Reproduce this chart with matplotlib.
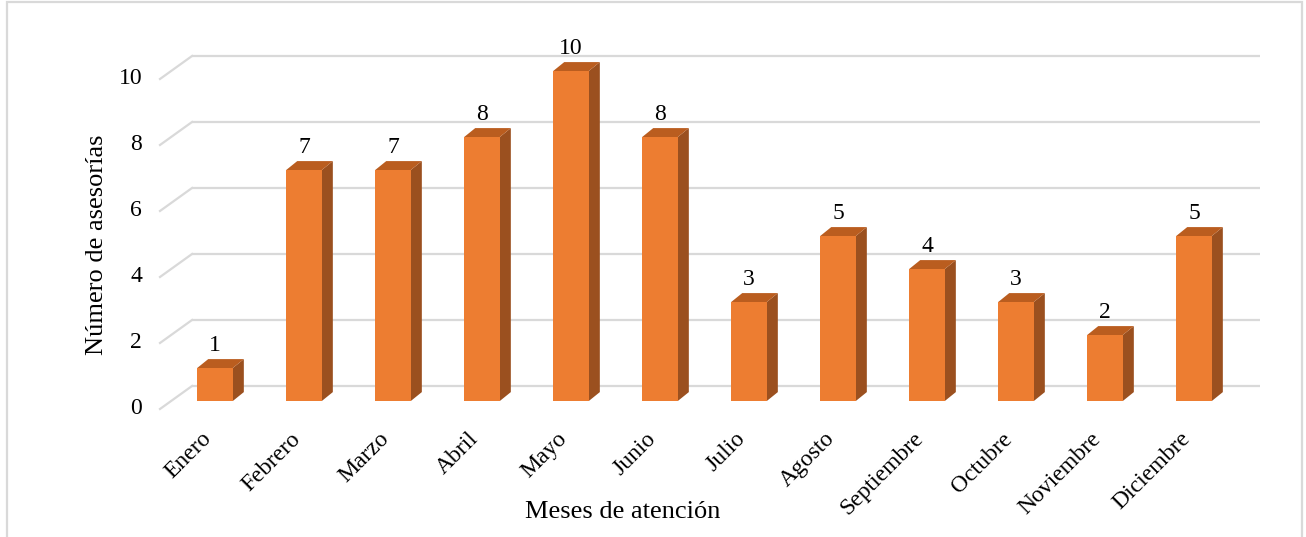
import matplotlib.pyplot as plt
from matplotlib.patches import Polygon, Rectangle

# data
months = ['Enero', 'Febrero', 'Marzo', 'Abril', 'Mayo', 'Junio', 'Julio',
          'Agosto', 'Septiembre', 'Octubre', 'Noviembre', 'Diciembre']
counts = [1, 7, 7, 8, 10, 8, 3, 5, 4, 3, 2, 5]
y_ticks = [0, 2, 4, 6, 8, 10]

# style
plt.rcParams['font.family'] = ['Liberation Serif', 'DejaVu Serif']
c_front = '#ED7D31'
c_top = '#BA5D1F'
c_side = '#9B501F'
c_grid = '#D9D9D9'

# pseudo-3d geometry (category / value units)
bar_w = 0.4
bar_dx, bar_dy = 0.124, 0.27      # bar depth
wall_x0, wall_x1 = -0.258, 11.74  # back wall extent
wall_dy = 0.455                   # back wall lift
floor_x0, floor_dy = -0.618, -0.242  # front edge of the floor

fig = plt.figure(figsize=(13.06, 5.37), dpi=100)
ax = fig.add_axes([0, 0, 1, 1])
ax.set_xlim(-215 / 89, 1091 / 89)
ax.set_ylim(-136 / 33, 401 / 33)
ax.axis('off')

# back wall grid + side diagonals
for v in y_ticks:
    ax.plot([wall_x0, wall_x1], [v + wall_dy, v + wall_dy], color=c_grid, lw=1.6, zorder=1,
            solid_capstyle='butt')
    ax.plot([floor_x0, wall_x0], [v + floor_dy, v + wall_dy], color=c_grid, lw=1.6, zorder=1)
    ax.text(floor_x0 - 0.2, v + floor_dy, str(v), ha='right', va='center', fontsize=17)

# bars
for i, v in enumerate(counts):
    x0, x1 = i - bar_w / 2, i + bar_w / 2
    ax.add_patch(Polygon([(x1, 0), (x1, v), (x1 + bar_dx, v + bar_dy), (x1 + bar_dx, bar_dy)],
                         closed=True, facecolor=c_side, edgecolor='none', zorder=2))
    ax.add_patch(Polygon([(x0, v), (x1, v), (x1 + bar_dx, v + bar_dy), (x0 + bar_dx, v + bar_dy)],
                         closed=True, facecolor=c_top, edgecolor='none', zorder=2))
    ax.add_patch(Rectangle((x0, 0), bar_w, v, facecolor=c_front, edgecolor='none', zorder=3))
    ax.text(i, v + bar_dy + 0.24, str(v), ha='center', va='baseline', fontsize=17, zorder=4)
    ax.text(i - 0.16, -0.83, months[i], rotation=45, rotation_mode='anchor',
            ha='right', va='top', fontsize=17)

ax.text(-1.326, 4.73, 'Número de asesorías', rotation=90, ha='center', va='center', fontsize=19)
ax.text(4.584, -3.36, 'Meses de atención', ha='center', va='center', fontsize=19)

# chart border
fig.patches.append(Rectangle((7 / 1306, -0.02), 1295 / 1306, 1.02 - 2 / 537, fill=False,
                             edgecolor=c_grid, lw=1.6, transform=fig.transFigure))

fig.savefig('out.png', dpi=100)
